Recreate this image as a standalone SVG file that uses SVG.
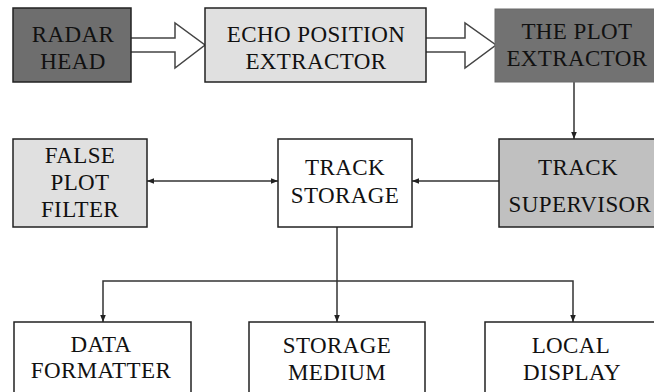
<svg xmlns="http://www.w3.org/2000/svg" width="654" height="392" viewBox="0 0 654 392">
  <style>
    .box { stroke: #222; stroke-width: 1.5; }
    text { font-family: 'Liberation Serif', 'Times New Roman', serif; font-size: 23px; fill: #111; text-anchor: middle; letter-spacing: 0.4px; }
    .wire { fill: none; stroke: #333; stroke-width: 1.5; }
    .fat { fill: #fff; stroke: #444; stroke-width: 1.5; stroke-linejoin: miter; }
  </style>
  <defs>
    <marker id="tip" viewBox="0 0 10 10" refX="10" refY="5" markerWidth="7" markerHeight="7" markerUnits="userSpaceOnUse" orient="auto-start-reverse">
      <path d="M0,1 L10,5 L0,9 z" fill="#222"/>
    </marker>
  </defs>

  <rect width="654" height="392" fill="#fff"/>

  <!-- connectors: hollow data-flow arrows, then plain signal lines -->
  <g id="connectors">
    <path class="fat" d="M131,38 H175 V23 L205,45 L175,68 V52 H131"/>
    <path class="fat" d="M426,38 H465 V23 L496,45 L465,68 V52 H426"/>
    <path class="wire" d="M574,82 V139" marker-end="url(#tip)"/>
    <path class="wire" d="M499,181 H412" marker-end="url(#tip)"/>
    <path class="wire" d="M147,181 H278" marker-start="url(#tip)" marker-end="url(#tip)"/>
    <path class="wire" d="M337,227 V322" marker-end="url(#tip)"/>
    <path class="wire" d="M337,281 H103 V322" marker-end="url(#tip)"/>
    <path class="wire" d="M337,281 H573 V322" marker-end="url(#tip)"/>
  </g>

  <g id="radar-head">
    <rect class="box" x="13" y="8" width="118" height="74" fill="#6e6e6e"/>
    <text x="73" y="42">RADAR</text>
    <text x="73" y="69">HEAD</text>
  </g>

  <g id="echo-position-extractor">
    <rect class="box" x="205" y="8" width="221" height="74" fill="#e0e0e0"/>
    <text x="316" y="42">ECHO POSITION</text>
    <text x="316" y="69">EXTRACTOR</text>
  </g>

  <g id="plot-extractor">
    <rect x="495" y="9" width="170" height="73" fill="#727272" stroke="#6a6a6a" stroke-width="1"/>
    <text x="577" y="39">THE PLOT</text>
    <text x="577" y="66">EXTRACTOR</text>
  </g>

  <g id="false-plot-filter">
    <rect class="box" x="13" y="139" width="134" height="88" fill="#e0e0e0"/>
    <text x="80" y="163">FALSE</text>
    <text x="80" y="190">PLOT</text>
    <text x="80" y="217">FILTER</text>
  </g>

  <g id="track-storage">
    <rect class="box" x="278" y="139" width="134" height="88" fill="#fff"/>
    <text x="345" y="175">TRACK</text>
    <text x="345" y="203">STORAGE</text>
  </g>

  <g id="track-supervisor">
    <rect class="box" x="499" y="139" width="170" height="88" fill="#c0c0c0"/>
    <text x="578" y="175">TRACK</text>
    <text x="580" y="212">SUPERVISOR</text>
  </g>

  <g id="data-formatter">
    <rect class="box" x="14" y="322" width="177" height="90" fill="#fff"/>
    <text x="101" y="352">DATA</text>
    <text x="101" y="378">FORMATTER</text>
  </g>

  <g id="storage-medium">
    <rect class="box" x="249" y="322" width="176" height="90" fill="#fff"/>
    <text x="337" y="353">STORAGE</text>
    <text x="337" y="380">MEDIUM</text>
  </g>

  <g id="local-display">
    <rect class="box" x="485" y="322" width="190" height="90" fill="#fff"/>
    <text x="571" y="353">LOCAL</text>
    <text x="572" y="380">DISPLAY</text>
  </g>
</svg>
